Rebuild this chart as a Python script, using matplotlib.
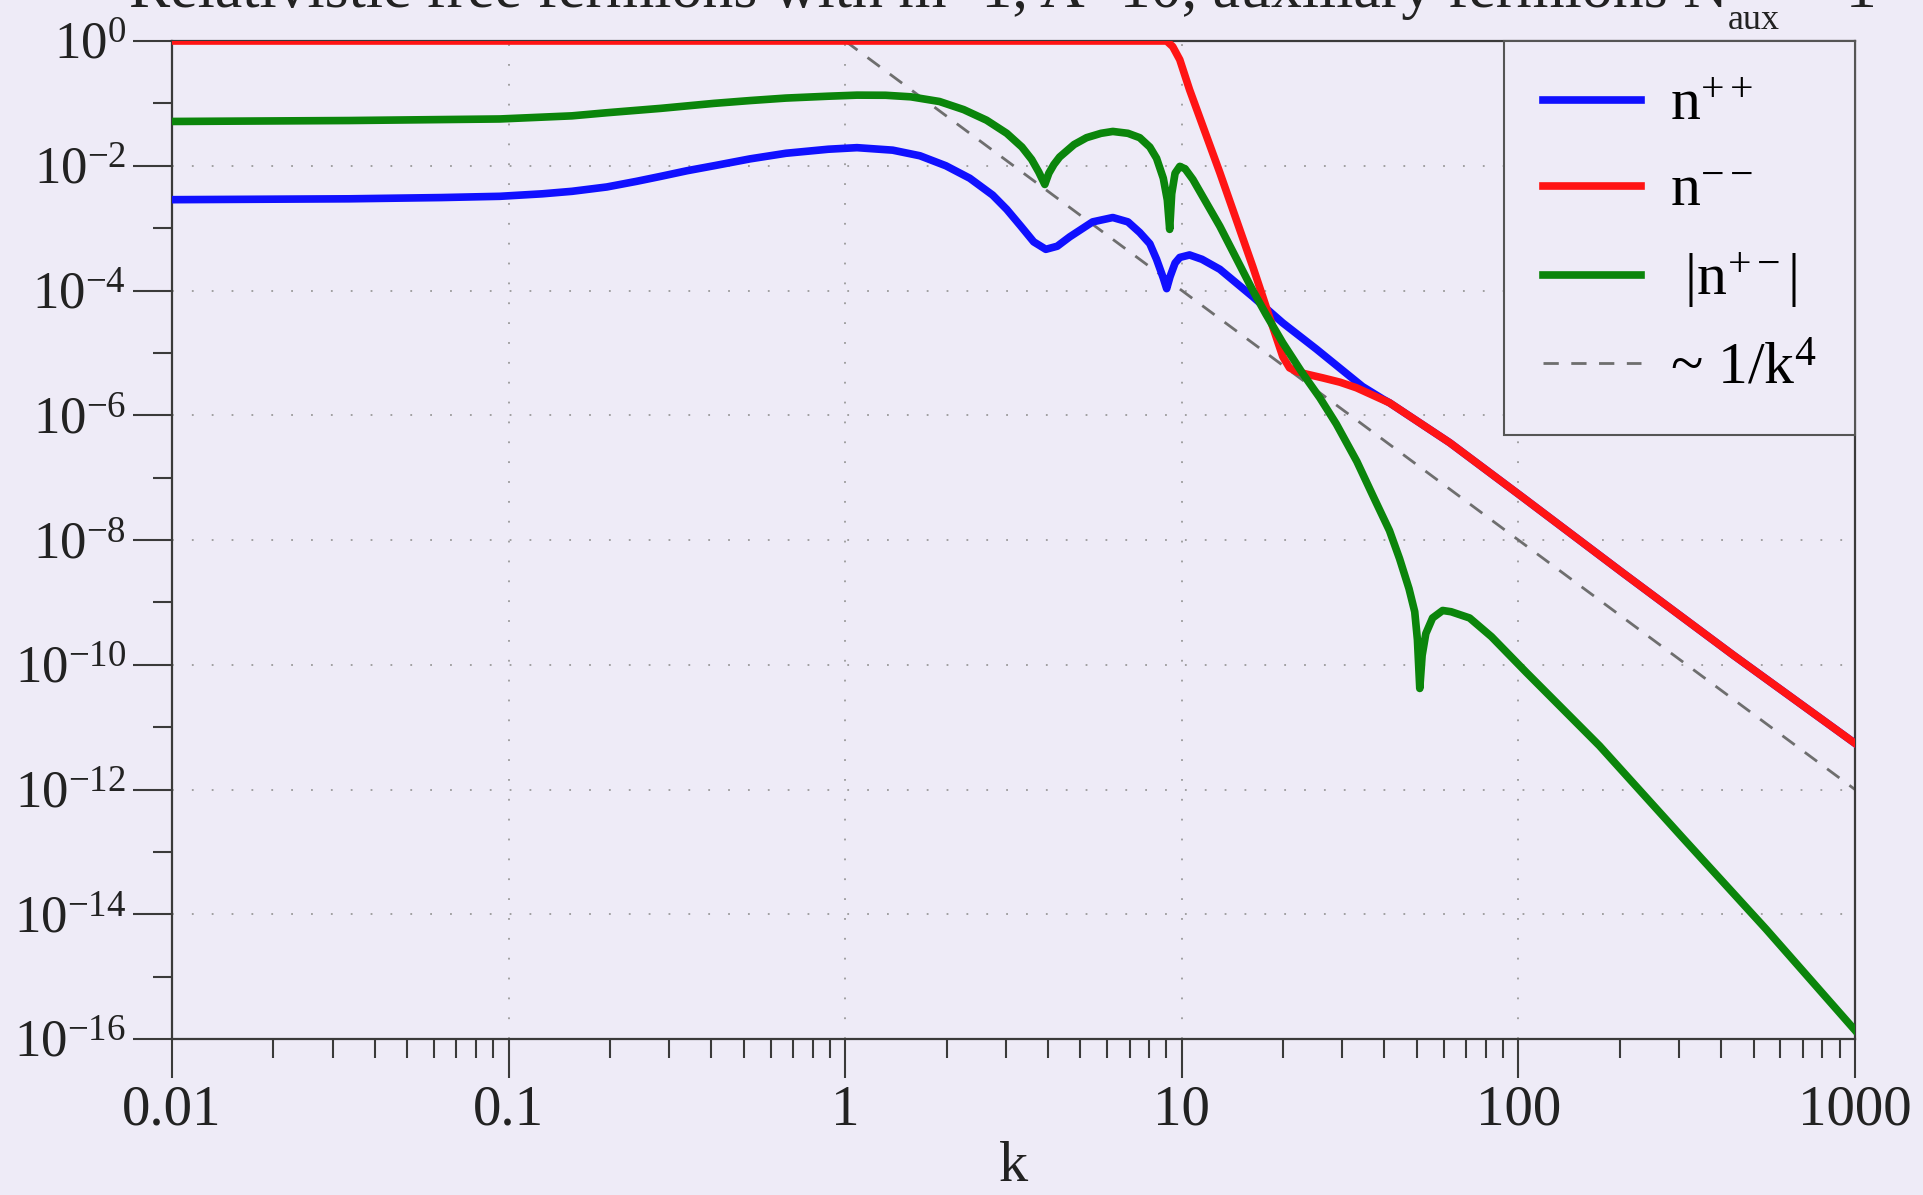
import numpy as np
import matplotlib
matplotlib.use('Agg')
import matplotlib.pyplot as plt
from matplotlib.ticker import FixedLocator, NullFormatter

## values (log10 k, log10 n)
logk_pp = [-2.0, -1.474, -1.2, -1.026, -0.9, -0.812, -0.708, -0.62, -0.548, -0.47, -0.390, -0.283, -0.176,
           -0.05, 0.035, 0.141, 0.222, 0.299, 0.370, 0.438, 0.480, 0.522, 0.560, 0.596, 0.630, 0.667, 0.735,
           0.795, 0.840, 0.875, 0.905, 0.925, 0.945, 0.955, 0.965, 0.980, 0.994, 1.023, 1.06, 1.113, 1.211,
           1.30, 1.40, 1.537, 1.597, 1.617, 1.796, 2.009, 2.311, 2.637, 3.0]
logn_pp = [-2.544, -2.53, -2.51, -2.49, -2.45, -2.41, -2.34, -2.25, -2.17, -2.08, -2.00, -1.89, -1.80,
           -1.735, -1.71, -1.75, -1.84, -2.00, -2.20, -2.47, -2.70, -2.97, -3.22, -3.34, -3.29, -3.14, -2.90,
           -2.83, -2.90, -3.07, -3.25, -3.50, -3.80, -3.97, -3.78, -3.56, -3.47, -3.43, -3.50, -3.66, -4.10,
           -4.52, -4.94, -5.54, -5.74, -5.80, -6.44, -7.30, -8.53, -9.84, -11.26]

logk_mm = [-2.0, 0.955, 0.973, 0.994, 1.023, 1.113, 1.172, 1.211, 1.240, 1.27, 1.30, 1.32, 1.341, 1.37,
           1.418, 1.47, 1.519, 1.617, 1.796, 2.009, 2.311, 2.637, 3.0]
logn_mm = [0.0, 0.0, -0.09, -0.30, -0.78, -2.11, -3.02, -3.62, -4.09, -4.58, -5.06, -5.24, -5.30, -5.34,
           -5.40, -5.47, -5.56, -5.80, -6.44, -7.30, -8.53, -9.84, -11.26]

logk_pm = [-2.0, -1.474, -1.026, -0.812, -0.708, -0.548, -0.390, -0.283, -0.176, -0.05, 0.035, 0.12, 0.195,
           0.28, 0.352, 0.420, 0.480, 0.525, 0.554, 0.575, 0.593, 0.605, 0.620, 0.637, 0.680, 0.717, 0.760,
           0.795, 0.840, 0.875, 0.905, 0.925, 0.945, 0.957, 0.964, 0.970, 0.980, 0.994, 1.010, 1.033, 1.113,
           1.211, 1.25, 1.30, 1.359, 1.41, 1.459, 1.52, 1.573, 1.617, 1.647, 1.675, 1.692, 1.700, 1.707,
           1.714, 1.725, 1.745, 1.775, 1.80, 1.855, 1.92, 2.023, 2.241, 2.489, 2.736, 3.0]
logn_pm = [-1.29, -1.275, -1.25, -1.20, -1.15, -1.08, -1.00, -0.955, -0.915, -0.885, -0.868, -0.87, -0.895,
           -0.97, -1.10, -1.27, -1.48, -1.70, -1.90, -2.10, -2.30, -2.12, -1.98, -1.86, -1.66, -1.55, -1.48,
           -1.45, -1.48, -1.55, -1.70, -1.88, -2.20, -2.55, -3.02, -2.45, -2.12, -2.01, -2.05, -2.22, -2.97,
           -4.00, -4.38, -4.84, -5.33, -5.72, -6.14, -6.74, -7.35, -7.85, -8.30, -8.78, -9.15, -9.60, -10.38,
           -9.85, -9.50, -9.25, -9.13, -9.15, -9.25, -9.55, -10.12, -11.30, -12.78, -14.24, -15.86]

k_ref = [1.0, 1000.0]
n_ref = [1.0, 1e-12]

x_ticks = [0.01, 0.1, 1, 10, 100, 1000]
x_ticklabels = ['0.01', '0.1', '1', '10', '100', '1000']
y_major_exp = [0, -2, -4, -6, -8, -10, -12, -14, -16]
y_minor_exp = [-1, -3, -5, -7, -9, -11, -13, -15]

labels = [r'n$^{\mathregular{++}}$', r'n$^{\mathregular{--}}$', r' |n$^{\mathregular{+-}}$|', r'~ 1/k$^{\mathregular{4}}$']
title_main = 'Relativistic free fermions with m=1, Λ=10, auxiliary fermions N'
title_sub = 'aux'
title_end = ' = 1'

bg = '#eeebf7'
ink = '#3a3a3a'

plt.rcParams['font.family'] = ['Liberation Serif', 'DejaVu Serif']
plt.rcParams['mathtext.fontset'] = 'custom'
plt.rcParams['mathtext.rm'] = 'Liberation Serif'
plt.rcParams['mathtext.it'] = 'Liberation Serif:italic'

W, H = 1923, 1195
fig = plt.figure(figsize=(W/100, H/100), dpi=100, facecolor=bg)
ax = fig.add_axes([172/W, 1 - 1039/H, (1855-172)/W, (1039-41)/H])
ax.set_facecolor(bg)

lref, = ax.plot(k_ref, n_ref, color='#6e6e6e', lw=2.0, dashes=(5.5, 4.5), zorder=2, label=labels[3])
l1, = ax.plot(10**np.array(logk_pp), 10**np.array(logn_pp), color='#1010ff', lw=5.5, zorder=3,
              solid_joinstyle='round', label=labels[0])
l2, = ax.plot(10**np.array(logk_mm), 10**np.array(logn_mm), color='#ff1414', lw=5.5, zorder=4,
              solid_joinstyle='round', label=labels[1])
l3, = ax.plot(10**np.array(logk_pm), 10**np.array(logn_pm), color='#0b850b', lw=5.5, zorder=5,
              solid_joinstyle='round', label=labels[2])

ax.set_xscale('log')
ax.set_yscale('log')
ax.set_xlim(0.01, 1000)
ax.set_ylim(1e-16, 1)

ax.set_xticks(x_ticks)
ax.set_xticklabels(x_ticklabels, fontsize=41)
ax.xaxis.set_minor_formatter(NullFormatter())
ax.yaxis.set_major_locator(FixedLocator([10.0**e for e in y_major_exp]))
ax.yaxis.set_minor_locator(FixedLocator([10.0**e for e in y_minor_exp]))
ax.set_yticklabels([r'10$^{\mathregular{%d}}$' % e for e in y_major_exp], fontsize=38)
ax.yaxis.set_minor_formatter(NullFormatter())

ax.tick_params(which='major', direction='out', length=28, width=1.5, color=ink, labelcolor='#222222')
ax.tick_params(which='minor', direction='out', length=14, width=1.5, color=ink)
ax.tick_params(axis='x', which='major', pad=5)
ax.tick_params(axis='y', which='major', pad=5)
for s in ax.spines.values():
    s.set_color(ink)
    s.set_linewidth(1.6)

ax.grid(True, which='major', color='#9a9a9a', lw=1.3, linestyle=(0, (1, 10)))

ax.set_xlabel('k', fontsize=42, labelpad=3, color='#222222')

leg = ax.legend(handles=[l1, l2, l3, lref], loc='upper right', borderaxespad=0, fontsize=43,
                fancybox=False, framealpha=1, facecolor=bg, edgecolor='#555555',
                handlelength=1.64, handletextpad=0.5, labelspacing=0.52, borderpad=0.64)
leg.get_frame().set_linewidth(1.5)

# title sits mostly above the top edge, only its lower part shows
r = fig.canvas.get_renderer()
t1 = fig.text(129/W, 1 - 7/H, title_main, ha='left', va='baseline', fontsize=40, color='#222222')
w1 = t1.get_window_extent(r).width
t1.set_fontsize(40 * (1728 - 129) / w1)
x_end = t1.get_window_extent(r).x1
t2 = fig.text(x_end/W, 1 - 29/H, title_sub, ha='left', va='baseline', fontsize=26, color='#222222')
x_end2 = t2.get_window_extent(r).x1
fig.text(x_end2/W, 1 - 7/H, title_end, ha='left', va='baseline', fontsize=t1.get_fontsize(), color='#222222')

fig.savefig('out.png', dpi=100, facecolor=bg)
